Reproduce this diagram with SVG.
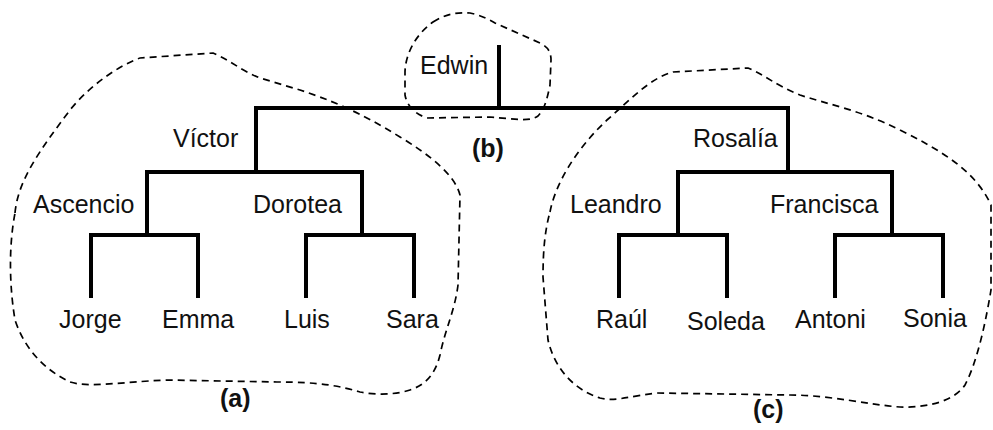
<svg xmlns="http://www.w3.org/2000/svg" width="993" height="430" viewBox="0 0 993 430">
  <style>
    .edge { fill: none; stroke: #000; stroke-width: 4; stroke-linecap: butt; stroke-linejoin: miter; }
    .region { fill: none; stroke: #000; stroke-width: 1.7; stroke-dasharray: 7 5; }
    .name { font-family: "Liberation Sans", Arial, sans-serif; font-size: 25px; fill: #111; }
    .tag { font-family: "Liberation Sans", Arial, sans-serif; font-size: 25px; font-weight: bold; fill: #111; }
  </style>
  <rect width="993" height="430" fill="#fff"/>

  <!-- dashed groupings -->
  <g id="regions">
    <path class="region" d="M 15,213 C 18,180 40,150 70,110 C 90,85 120,65 140,58 L 213,53 C 230,60 240,70 260,78 L 300,90 C 330,100 360,112 400,137 C 430,155 455,175 460,195 L 458,285 C 455,310 445,330 440,355 C 435,375 425,385 410,390 C 395,395 375,395 360,392 C 340,386 320,382 277,382 L 167,380 C 120,382 90,388 70,382 C 45,370 25,350 15,320 C 10,290 8,250 15,213 Z"/>
    <path class="region" d="M 433,22 C 445,14 458,12 470,13 C 480,15 488,19 495,23 L 540,43 C 548,47 551,52 551,60 L 550,85 C 547,100 544,110 538,116 C 530,122 515,119 490,117 L 427,118 C 415,114 407,106 405,95 L 405,73 C 405,55 415,35 433,22 Z"/>
    <path class="region" d="M 550,212 C 555,185 575,150 607,120 C 630,100 650,78 673,72 L 748,68 C 765,75 775,85 800,95 C 830,105 860,110 900,130 C 940,150 975,170 991,205 L 991,290 C 986,320 978,360 965,385 C 955,400 930,408 900,407 C 870,405 830,395 790,395 L 657,393 C 630,396 615,402 600,398 C 575,390 555,370 548,340 L 543,277 C 543,250 545,230 550,212 Z"/>
  </g>

  <!-- tree connectors -->
  <g id="connectors">
    <path class="edge" d="M 499,45 V 108"/>
    <path class="edge" d="M 256,172 V 108 H 788 V 172"/>
    <path class="edge" d="M 147,235 V 172 H 362 V 235"/>
    <path class="edge" d="M 91,298 V 235 H 198 V 298"/>
    <path class="edge" d="M 306,298 V 235 H 414 V 298"/>
    <path class="edge" d="M 678,235 V 172 H 892 V 235"/>
    <path class="edge" d="M 619,298 V 235 H 727 V 298"/>
    <path class="edge" d="M 835,298 V 235 H 943 V 298"/>
  </g>

  <!-- people -->
  <g id="edwin"><text class="name" x="420" y="74">Edwin</text></g>
  <g id="victor"><text class="name" x="173" y="147">Víctor</text></g>
  <g id="rosalia"><text class="name" x="693" y="147">Rosalía</text></g>
  <g id="ascencio"><text class="name" x="33" y="213">Ascencio</text></g>
  <g id="dorotea"><text class="name" x="253" y="213">Dorotea</text></g>
  <g id="leandro"><text class="name" x="570" y="213">Leandro</text></g>
  <g id="francisca"><text class="name" x="770" y="213">Francisca</text></g>
  <g id="jorge"><text class="name" x="59" y="328">Jorge</text></g>
  <g id="emma"><text class="name" x="162" y="328">Emma</text></g>
  <g id="luis"><text class="name" x="284" y="328">Luis</text></g>
  <g id="sara"><text class="name" x="386" y="328">Sara</text></g>
  <g id="raul"><text class="name" x="596" y="328">Raúl</text></g>
  <g id="soleda"><text class="name" x="687" y="330">Soleda</text></g>
  <g id="antoni"><text class="name" x="795" y="328">Antoni</text></g>
  <g id="sonia"><text class="name" x="903" y="327">Sonia</text></g>

  <!-- region tags -->
  <g id="tag-a"><text class="tag" x="220" y="407">(a)</text></g>
  <g id="tag-b"><text class="tag" x="472" y="157">(b)</text></g>
  <g id="tag-c"><text class="tag" x="753" y="418">(c)</text></g>
</svg>
